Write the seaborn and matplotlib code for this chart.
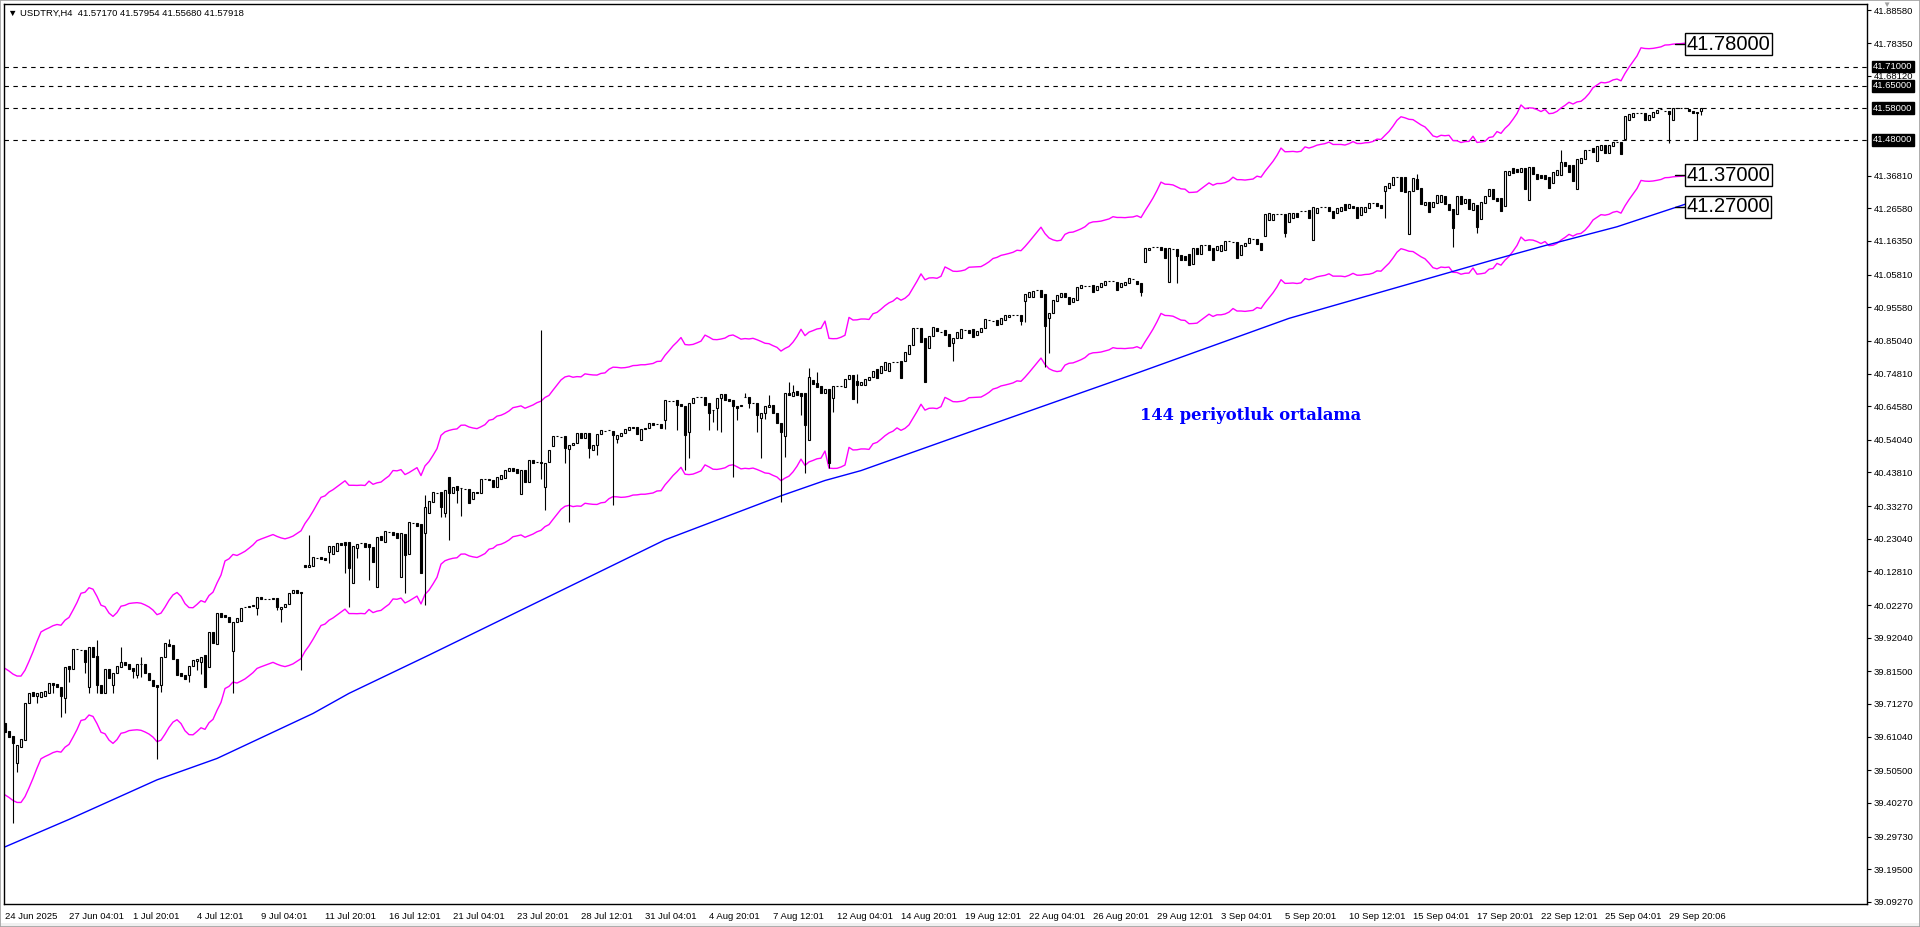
import numpy as np
import pandas as pd
import matplotlib
matplotlib.use("Agg")
import matplotlib.pyplot as plt
import matplotlib.transforms as mtransforms
from matplotlib.patches import Rectangle
import seaborn as sns

# ---------------------------------------------------------------
# data
# ---------------------------------------------------------------
HEADER = "\u25BC USDTRY,H4  41.57170 41.57954 41.55680 41.57918"

# (open, close) for every H4 bar, left to right
CANDLES = [
    (39.652, 39.626), (39.628, 39.610), (39.612, 39.589), (39.527, 39.584), (39.579, 39.602),
    (39.600, 39.717), (39.715, 39.748), (39.750, 39.738), (39.738, 39.746), (39.736, 39.750),
    (39.738, 39.752), (39.748, 39.777), (39.777, 39.771), (39.775, 39.765), (39.765, 39.738),
    (39.730, 39.830), (39.832, 39.821), (39.821, 39.884), (39.884, 39.885), (39.883, 39.882),
    (39.882, 39.845), (39.765, 39.892), (39.892, 39.861), (39.863, 39.772), (39.772, 39.746),
    (39.748, 39.821), (39.823, 39.793), (39.771, 39.809), (39.809, 39.832), (39.830, 39.845),
    (39.845, 39.835), (39.838, 39.821), (39.824, 39.817), (39.803, 39.837), (39.837, 39.837),
    (39.837, 39.809), (39.809, 39.788), (39.788, 39.769), (39.772, 39.765), (39.772, 39.861),
    (39.861, 39.903), (39.901, 39.894), (39.896, 39.853), (39.855, 39.803), (39.811, 39.800),
    (39.803, 39.790), (39.803, 39.833), (39.833, 39.850), (39.848, 39.855), (39.845, 39.859),
    (39.866, 39.765), (39.828, 39.937), (39.937, 39.903), (39.901, 39.997), (39.997, 39.984),
    (39.990, 39.984), (39.984, 39.971), (39.880, 39.971), (39.971, 39.981), (39.974, 40.015),
    (40.018, 40.018), (40.018, 40.019), (40.020, 40.022), (40.015, 40.047), (40.047, 40.041),
    (40.043, 40.041), (40.043, 40.043), (40.043, 40.045), (40.045, 40.018), (40.009, 40.018),
    (40.018, 40.026), (40.026, 40.061), (40.059, 40.070), (40.070, 40.059), (40.063, 40.059),
    (40.148, 40.141), (40.141, 40.148), (40.146, 40.172), (40.170, 40.170), (40.172, 40.166),
    (40.170, 40.164), (40.190, 40.208), (40.183, 40.208), (40.193, 40.216), (40.218, 40.212),
    (40.220, 40.211), (40.220, 40.138), (40.091, 40.208), (40.200, 40.214), (40.216, 40.216),
    (40.216, 40.206), (40.214, 40.206), (40.206, 40.158), (40.078, 40.237), (40.239, 40.228),
    (40.221, 40.256), (40.252, 40.252), (40.253, 40.242), (40.249, 40.232), (40.112, 40.247),
    (40.245, 40.179), (40.183, 40.283), (40.281, 40.281), (40.281, 40.270), (40.277, 40.124),
    (40.247, 40.329), (40.310, 40.350), (40.347, 40.378), (40.375, 40.375), (40.378, 40.331),
    (40.310, 40.383), (40.425, 40.373), (40.373, 40.394), (40.396, 40.383), (40.389, 40.388),
    (40.386, 40.385), (40.385, 40.344), (40.354, 40.378), (40.378, 40.373), (40.373, 40.417),
    (40.418, 40.418), (40.418, 40.413), (40.413, 40.392), (40.394, 40.423), (40.418, 40.431),
    (40.420, 40.446), (40.444, 40.451), (40.451, 40.444), (40.448, 40.436), (40.371, 40.446),
    (40.446, 40.409), (40.409, 40.477), (40.477, 40.469), (40.472, 40.472), (40.470, 40.469),
    (40.394, 40.467), (40.472, 40.509), (40.521, 40.551), (40.551, 40.551), (40.550, 40.549),
    (40.551, 40.514), (40.511, 40.524), (40.524, 40.531), (40.530, 40.561), (40.561, 40.545),
    (40.545, 40.561), (40.561, 40.514), (40.507, 40.524), (40.524, 40.559), (40.559, 40.571),
    (40.569, 40.569), (40.571, 40.571), (40.569, 40.556), (40.543, 40.556), (40.551, 40.563),
    (40.561, 40.573), (40.571, 40.582), (40.582, 40.577), (40.580, 40.559), (40.540, 40.573),
    (40.576, 40.573), (40.577, 40.592), (40.592, 40.587), (40.590, 40.590), (40.590, 40.577),
    (40.601, 40.665), (40.663, 40.663), (40.663, 40.663), (40.665, 40.650), (40.652, 40.647),
    (40.647, 40.556), (40.566, 40.657), (40.657, 40.671), (40.674, 40.674), (40.674, 40.674),
    (40.674, 40.650), (40.657, 40.626), (40.634, 40.634), (40.640, 40.671), (40.671, 40.684),
    (40.684, 40.665), (40.667, 40.663), (40.665, 40.645), (40.645, 40.640), (40.645, 40.650),
    (40.674, 40.674), (40.674, 40.657), (40.655, 40.655), (40.655, 40.618), (40.610, 40.624),
    (40.624, 40.645), (40.643, 40.650), (40.650, 40.624), (40.624, 40.592), (40.594, 40.566),
    (40.553, 40.686), (40.688, 40.681), (40.678, 40.691), (40.693, 40.681), (40.686, 40.678),
    (40.688, 40.587), (40.540, 40.736), (40.727, 40.714), (40.717, 40.707), (40.709, 40.688),
    (40.688, 40.699), (40.699, 40.467), (40.671, 40.709), (40.709, 40.709), (40.709, 40.709),
    (40.705, 40.730), (40.730, 40.745), (40.745, 40.668), (40.726, 40.712), (40.712, 40.722),
    (40.712, 40.730), (40.728, 40.738), (40.738, 40.757), (40.761, 40.733), (40.751, 40.772),
    (40.759, 40.785), (40.757, 40.782), (40.785, 40.785), (40.785, 40.785), (40.788, 40.733),
    (40.788, 40.816), (40.809, 40.837), (40.837, 40.890), (40.890, 40.890), (40.890, 40.848),
    (40.858, 40.723), (40.827, 40.866), (40.866, 40.893), (40.890, 40.882), (40.879, 40.879),
    (40.884, 40.869), (40.872, 40.834), (40.845, 40.858), (40.858, 40.879), (40.858, 40.887),
    (40.884, 40.884), (40.884, 40.876), (40.887, 40.862), (40.869, 40.882), (40.879, 40.890),
    (40.890, 40.918), (40.916, 40.916), (40.914, 40.914), (40.916, 40.900), (40.903, 40.921),
    (40.916, 40.932), (40.926, 40.932), (40.932, 40.932), (40.932, 40.932), (40.932, 40.914),
    (40.976, 40.997), (40.989, 41.004), (40.989, 41.008), (41.010, 41.010), (41.010, 40.989),
    (40.997, 40.897), (40.921, 40.937), (40.937, 40.978), (40.976, 40.994), (40.989, 40.999),
    (40.999, 40.989), (40.989, 40.966), (40.973, 40.984), (40.978, 41.018), (41.015, 41.025),
    (41.022, 41.022), (41.022, 41.022), (41.025, 41.004), (41.010, 41.022), (41.020, 41.033),
    (41.026, 41.039), (41.039, 41.039), (41.039, 41.039), (41.036, 41.010), (41.020, 41.033),
    (41.026, 41.036), (41.031, 41.046), (41.043, 41.043), (41.039, 41.029), (41.031, 41.004),
    (41.099, 41.141), (41.135, 41.143), (41.146, 41.146), (41.146, 41.146), (41.146, 41.135),
    (41.140, 41.109), (41.036, 41.140), (41.137, 41.137), (41.137, 41.116), (41.119, 41.104),
    (41.116, 41.104), (41.122, 41.088), (41.091, 41.140), (41.143, 41.122), (41.122, 41.151),
    (41.151, 41.151), (41.151, 41.135), (41.140, 41.104), (41.135, 41.148), (41.133, 41.151),
    (41.135, 41.164), (41.164, 41.164), (41.161, 41.161), (41.161, 41.109), (41.119, 41.151),
    (41.148, 41.158), (41.156, 41.172), (41.169, 41.169), (41.169, 41.154), (41.156, 41.135),
    (41.179, 41.248), (41.229, 41.250), (41.229, 41.248), (41.248, 41.248), (41.248, 41.248),
    (41.247, 41.190), (41.224, 41.252), (41.234, 41.252), (41.252, 41.240), (41.258, 41.258),
    (41.258, 41.258), (41.260, 41.234), (41.168, 41.271), (41.252, 41.266), (41.271, 41.271),
    (41.269, 41.269), (41.271, 41.258), (41.258, 41.234), (41.252, 41.266), (41.258, 41.271),
    (41.279, 41.260), (41.266, 41.279), (41.273, 41.266), (41.271, 41.237), (41.244, 41.271),
    (41.255, 41.271), (41.266, 41.283), (41.283, 41.283), (41.283, 41.273), (41.276, 41.266),
    (41.320, 41.335), (41.329, 41.344), (41.339, 41.365), (41.365, 41.365), (41.365, 41.321),
    (41.363, 41.318), (41.185, 41.321), (41.321, 41.360), (41.357, 41.325), (41.331, 41.279),
    (41.276, 41.286), (41.286, 41.255), (41.271, 41.286), (41.281, 41.307), (41.286, 41.307),
    (41.305, 41.279), (41.279, 41.262), (41.265, 41.203), (41.248, 41.305), (41.305, 41.279),
    (41.281, 41.294), (41.294, 41.265), (41.262, 41.283), (41.276, 41.208), (41.231, 41.286),
    (41.283, 41.305), (41.305, 41.325), (41.325, 41.294), (41.297, 41.289), (41.297, 41.258),
    (41.273, 41.383), (41.370, 41.383), (41.391, 41.377), (41.388, 41.380), (41.380, 41.391),
    (41.391, 41.325), (41.292, 41.396), (41.396, 41.373), (41.373, 41.357), (41.370, 41.360),
    (41.370, 41.357), (41.365, 41.331), (41.344, 41.380), (41.370, 41.386), (41.370, 41.412),
    (41.412, 41.398), (41.401, 41.380), (41.401, 41.352), (41.325, 41.419), (41.409, 41.422),
    (41.419, 41.448), (41.450, 41.450), (41.454, 41.443), (41.415, 41.461), (41.448, 41.464),
    (41.464, 41.440), (41.440, 41.464), (41.461, 41.475), (41.475, 41.475), (41.475, 41.436),
    (41.482, 41.555), (41.542, 41.561), (41.553, 41.563), (41.563, 41.563), (41.563, 41.563),
    (41.565, 41.544), (41.544, 41.558), (41.553, 41.568), (41.566, 41.574), (41.576, 41.576),
    (41.572, 41.572), (41.572, 41.561), (41.544, 41.579), (41.579, 41.579), (41.579, 41.579),
    (41.579, 41.579), (41.576, 41.572), (41.572, 41.563), (41.568, 41.566), (41.5717, 41.5792),
]

# visible wick extremes (bar index -> price)
WICK_HIGH = {
    23: 39.913, 29: 39.892, 34: 39.861, 41: 39.915, 76: 40.242, 105: 40.367,
    134: 40.885, 185: 40.686, 191: 40.681, 196: 40.723, 197: 40.712, 201: 40.764,
    203: 40.754, 213: 40.748, 353: 41.373, 389: 41.448, 424: 41.5795,
}
WICK_LOW = {
    2: 39.340, 3: 39.501, 8: 39.715, 12: 39.748, 14: 39.673, 15: 39.683, 16: 39.783,
    20: 39.811, 21: 39.748, 23: 39.746, 27: 39.746, 32: 39.793, 33: 39.793, 34: 39.798,
    38: 39.539, 39: 39.751, 46: 39.783, 48: 39.819, 49: 39.807, 57: 39.748, 63: 39.990,
    68: 40.007, 69: 39.971, 74: 39.819, 81: 40.153, 85: 40.122, 86: 40.018, 88: 40.169,
    91: 40.101, 100: 40.059, 105: 40.023, 109: 40.300, 110: 40.300, 111: 40.227,
    113: 40.342, 114: 40.302, 134: 40.418, 135: 40.321, 140: 40.467, 141: 40.284,
    146: 40.483, 148: 40.493, 152: 40.336, 153: 40.530, 165: 40.573, 168: 40.571,
    170: 40.446, 171: 40.483, 176: 40.571, 177: 40.597, 178: 40.571, 179: 40.566,
    182: 40.425, 183: 40.603, 186: 40.639, 188: 40.566, 189: 40.483, 190: 40.605,
    194: 40.347, 195: 40.488, 199: 40.618, 200: 40.436, 206: 40.451, 207: 40.629,
    213: 40.655, 237: 40.788, 254: 40.900, 255: 40.910, 260: 40.768, 261: 40.811,
    284: 40.990, 293: 41.033, 320: 41.177, 345: 41.234, 362: 41.145, 368: 41.189,
    416: 41.471, 423: 41.481, 424: 41.5568,
}

ENVELOPE_PERIOD = 5
ENVELOPE_DEVIATION = 0.005

# 144 period moving average, read at a number of bars
MA144_BARS = [0, 16, 38, 53, 77, 86, 106, 165, 194, 205, 214, 243, 284, 321, 372, 385, 403, 424]
MA144_VALUES = [39.265, 39.351, 39.475, 39.542, 39.683, 39.746, 39.866, 40.227, 40.365,
                40.413, 40.444, 40.573, 40.754, 40.921, 41.104, 41.149, 41.208, 41.295]

LEVEL_LINES = [41.71, 41.65, 41.58, 41.48]
BOX_LABELS = ["41.78000", "41.37000", "41.27000"]
BOX_LEVELS = [41.78, 41.37, 41.27]

X_TICK_STEP = 16
X_TICK_LABELS = [
    "24 Jun 2025", "27 Jun 04:01", "1 Jul 20:01", "4 Jul 12:01", "9 Jul 04:01",
    "11 Jul 20:01", "16 Jul 12:01", "21 Jul 04:01", "23 Jul 20:01", "28 Jul 12:01",
    "31 Jul 04:01", "4 Aug 20:01", "7 Aug 12:01", "12 Aug 04:01", "14 Aug 20:01",
    "19 Aug 12:01", "22 Aug 04:01", "26 Aug 20:01", "29 Aug 12:01", "3 Sep 04:01",
    "5 Sep 20:01", "10 Sep 12:01", "15 Sep 04:01", "17 Sep 20:01", "22 Sep 12:01",
    "25 Sep 04:01", "29 Sep 20:06",
]
Y_TICK_VALUES = [41.88580, 41.78350, 41.68120, 41.36810, 41.26580, 41.16350, 41.05810,
                 40.95580, 40.85040, 40.74810, 40.64580, 40.54040, 40.43810, 40.33270,
                 40.23040, 40.12810, 40.02270, 39.92040, 39.81500, 39.71270, 39.61040,
                 39.50500, 39.40270, 39.29730, 39.19500, 39.09270]

# ---------------------------------------------------------------
# frame
# ---------------------------------------------------------------
sns.set_style("white")
plt.rcParams["font.family"] = ["Liberation Sans", "DejaVu Sans"]

W, H = 1920, 927
fig = plt.figure(figsize=(W / 100, H / 100), dpi=100, facecolor="white")
ax = fig.add_axes([4 / W, 1 - 904 / H, (1867 - 4) / W, (904 - 4) / H])

df = pd.DataFrame(CANDLES, columns=["open", "close"])
df["bar"] = np.arange(len(df))
df["high"] = df[["open", "close"]].max(axis=1)
df["low"] = df[["open", "close"]].min(axis=1)
for b, v in WICK_HIGH.items():
    df.loc[b, "high"] = max(df.loc[b, "high"], v)
for b, v in WICK_LOW.items():
    df.loc[b, "low"] = min(df.loc[b, "low"], v)

# envelopes around a short SMA
mid = df["close"].rolling(ENVELOPE_PERIOD, min_periods=1).mean()
sns.lineplot(x=df["bar"], y=mid * (1 + ENVELOPE_DEVIATION), ax=ax, color="#ff00ff", linewidth=1.0, zorder=2)
sns.lineplot(x=df["bar"], y=mid * (1 - ENVELOPE_DEVIATION), ax=ax, color="#ff00ff", linewidth=1.0, zorder=2)

# 144 MA
sns.lineplot(x=MA144_BARS, y=MA144_VALUES, ax=ax, color="#0000ff", linewidth=1.0, zorder=2)

# candles
ax.vlines(df["bar"], df["low"], df["high"], color="black", linewidth=0.8, zorder=3)
bull = df["close"] >= df["open"]
ax.bar(df.loc[bull, "bar"], df.loc[bull, "close"] - df.loc[bull, "open"], bottom=df.loc[bull, "open"],
       width=0.5, facecolor="white", edgecolor="black", linewidth=0.8, zorder=4)
ax.bar(df.loc[~bull, "bar"], df.loc[~bull, "close"] - df.loc[~bull, "open"], bottom=df.loc[~bull, "open"],
       width=0.5, facecolor="black", edgecolor="black", linewidth=0.8, zorder=4)

# horizontal levels
for lv in LEVEL_LINES:
    ax.axhline(lv, color="black", linewidth=0.8, linestyle=(0, (4, 4)), zorder=1)

# boxed price notes at the right end
for lab, lv in zip(BOX_LABELS, BOX_LEVELS):
    ax.plot([417.5, 420.0], [lv, lv], color="black", linewidth=1.0, zorder=5)
    ax.text(420.3, lv, lab, fontsize=14.5, color="black", ha="left", va="center", zorder=6,
            bbox=dict(boxstyle="square,pad=0.08", facecolor="white", edgecolor="black", linewidth=1.0))

ax.text(283.8, 40.618, "144 periyotluk ortalama", color="#0000ff", fontsize=11.8,
        fontweight="bold", family="DejaVu Serif", ha="left", va="center", zorder=6)

# axes limits and ticks
ax.set_xlim(-0.25, 465.5)
ax.set_ylim(39.086, 41.906)
ax.set_xlabel("")
ax.set_ylabel("")

ax.set_xticks(np.arange(len(X_TICK_LABELS)) * X_TICK_STEP)
ax.set_xticklabels(X_TICK_LABELS, ha="left")
shift = mtransforms.ScaledTranslation(2 / 100, 0, fig.dpi_scale_trans)
for t in ax.get_xticklabels():
    t.set_transform(t.get_transform() + shift)
ax.tick_params(axis="x", direction="out", length=4, width=0.8, pad=1.5, labelsize=6.8, colors="black")

ax.yaxis.tick_right()
ax.set_yticks(Y_TICK_VALUES)
ax.set_yticklabels([f"{v:.5f}" for v in Y_TICK_VALUES])
ax.tick_params(axis="y", direction="out", length=3, width=0.8, pad=2, labelsize=6.8, colors="black")

for s in ax.spines.values():
    s.set_visible(True)
    s.set_color("black")
    s.set_linewidth(1.0)

# black price tags for the dashed levels
tag_tr = mtransforms.blended_transform_factory(ax.transAxes, ax.transData)
for lv in LEVEL_LINES:
    ax.text(1.0033, lv, f"{lv:.5f}", transform=tag_tr, fontsize=6.8, color="white", ha="left",
            va="center", clip_on=False, zorder=10,
            bbox=dict(boxstyle="square,pad=0.15", facecolor="black", edgecolor="black"))

# header and window decorations
fig.text(8 / W, 1 - 13 / H, HEADER, fontsize=6.8, color="black", ha="left", va="center")
fig.text(1886 / W, 1 - 5 / H, "\u25BC", fontsize=6, color="#a0a0a0", ha="center", va="center")
fig.patches.append(Rectangle((0, 0), 1, 4 / H, transform=fig.transFigure, facecolor="#f0f0f0",
                             edgecolor="none", zorder=0))
fig.patches.append(Rectangle((0, 0), 1, 1, transform=fig.transFigure, facecolor="none",
                             edgecolor="#a0a0a0", linewidth=1.2, zorder=0))

fig.savefig("out.png", dpi=100, facecolor="white")
